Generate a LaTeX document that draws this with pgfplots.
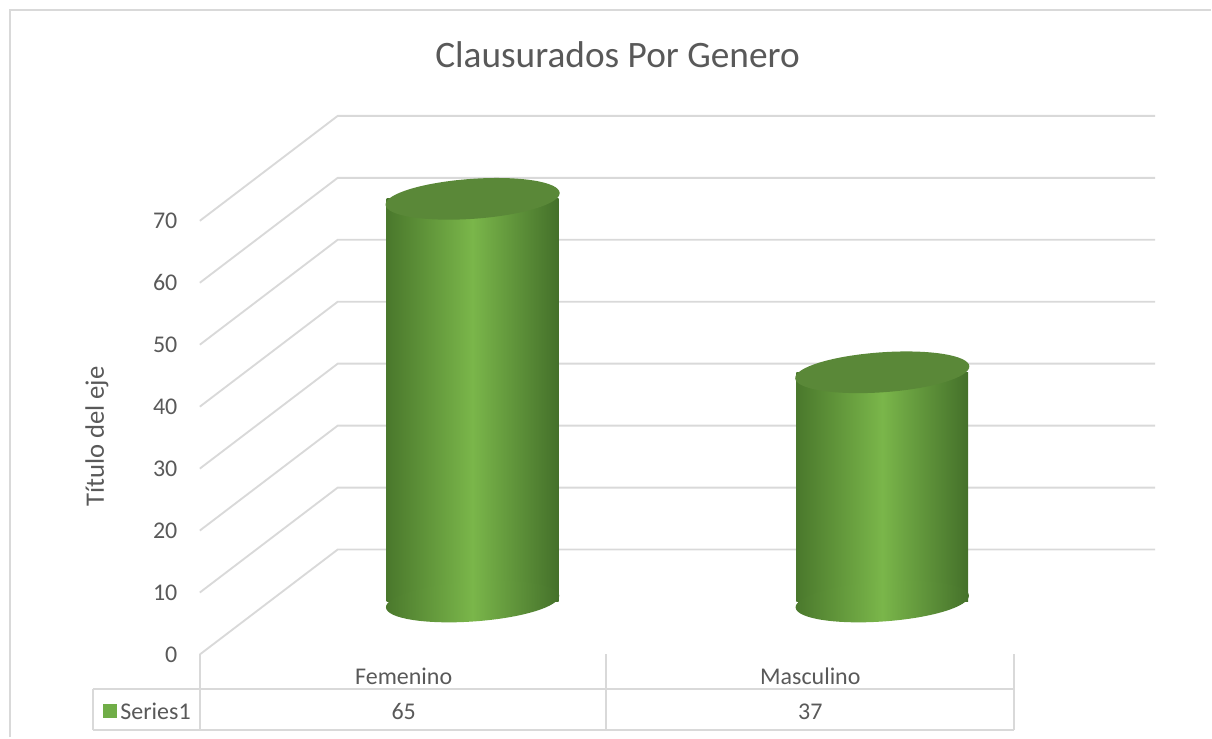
\documentclass[border=0pt]{standalone}
\usepackage{pgfplots}
\pgfplotsset{compat=1.18}
\usepackage{pgfplotstable}
\usepackage{fontspec}
\setmainfont{Carlito}
\usetikzlibrary{shapes.geometric}
\definecolor{txt}{HTML}{595959}
\definecolor{gridc}{HTML}{D9D9D9}
\definecolor{cylL}{HTML}{4A782C}
\definecolor{cylM}{HTML}{7AB64A}
\definecolor{cylR}{HTML}{44702A}
\definecolor{cylTop}{HTML}{5A8838}
\definecolor{keyc}{HTML}{70AD47}

\pgfplotstableread{
idx value
0 65
1 37
}\data

\begin{document}
\begin{tikzpicture}
\begin{axis}[
  width=454.5pt, height=276.75pt, scale only axis,
  xmin=-1.15366, xmax=1.80244, ymin=-21.935, ymax=97.097,
  hide axis, clip=false, set layers=standard,
]
\path (rel axis cs:0,0) rectangle (rel axis cs:1,1);
% chart border
\draw[gridc, line width=0.75pt] (axis cs:-1.1293,-21.935) -- (axis cs:-1.1293,95.48) -- (axis cs:1.80244,95.48);
% 3D grid and tick labels
\pgfplotsinvokeforeach{0,10,...,70}{
  \draw[gridc, line width=0.7pt] (axis cs:-0.6659,{#1-8.55}) -- (axis cs:-0.3293,{#1+8.39}) -- (axis cs:1.6659,{#1+8.39});
  \node[anchor=east, inner sep=0pt, font=\fontsize{9}{11}\selectfont, text=txt] at (axis cs:-0.7195,{#1-8.55}) {#1};
}
% bottom ellipses
\addplot[on layer=pre main, draw=none, nodes near coords={}, nodes near coords style={anchor=center, ellipse, inner sep=0pt, minimum width=65.2pt, minimum height=15pt, rotate=4, draw=none, left color=cylL, right color=cylR, middle color=cylM}] table[x=idx, y expr=0] {\data};
% cylinder bodies
\addplot[ybar, bar shift=0pt, bar width=64.5pt, draw=none, left color=cylL, right color=cylR, middle color=cylM] table[x=idx, y=value, skip coords between index={1}{2}] {\data};
\addplot[ybar, bar shift=0pt, bar width=64.5pt, draw=none, left color=cylL, right color=cylR, middle color=cylM] table[x=idx, y=value, skip coords between index={0}{1}] {\data};
% top ellipses
\addplot[draw=none, nodes near coords={}, nodes near coords style={anchor=center, ellipse, inner sep=0pt, minimum width=65.5pt, minimum height=15pt, rotate=4, draw=none, fill=cylTop}] table[x=idx, y=value] {\data};
% title
\node[anchor=base, font=\fontsize{14}{17}\selectfont, text=txt] at (axis cs:0.3537,86.13) {Clausurados Por Genero};
\node[rotate=90, font=\fontsize{10}{12}\selectfont, text=txt] at (axis cs:-0.917,26.6) {Título del eje};
% data table
\draw[gridc, line width=0.75pt] (axis cs:-0.9268,-14.19) -- (axis cs:1.3220,-14.19);
\draw[gridc, line width=0.75pt] (axis cs:-0.9268,-20.81) -- (axis cs:1.3220,-20.81);
\draw[gridc, line width=0.75pt] (axis cs:-0.9268,-14.19) -- (axis cs:-0.9268,-20.81);
\draw[gridc, line width=0.75pt] (axis cs:-0.6659,-8.55) -- (axis cs:-0.6659,-20.81);
\draw[gridc, line width=0.75pt] (axis cs:0.3268,-8.55) -- (axis cs:0.3268,-20.81);
\draw[gridc, line width=0.75pt] (axis cs:1.3220,-8.55) -- (axis cs:1.3220,-20.81);
\node[font=\fontsize{9}{11}\selectfont, text=txt] at (axis cs:-0.1683,-12.10) {Femenino};
\node[font=\fontsize{9}{11}\selectfont, text=txt] at (axis cs:0.8244,-12.10) {Masculino};
\node[font=\fontsize{9}{11}\selectfont, text=txt] at (axis cs:-0.1683,-17.74) {65};
\node[font=\fontsize{9}{11}\selectfont, text=txt] at (axis cs:0.8244,-17.74) {37};
\node[fill=keyc, inner sep=0pt, minimum size=5.25pt] at (axis cs:-0.8854,-17.74) {};
\node[anchor=west, inner sep=0pt, font=\fontsize{9}{11}\selectfont, text=txt] at (axis cs:-0.8610,-17.74) {Series1};
\end{axis}
\end{tikzpicture}
\end{document}
